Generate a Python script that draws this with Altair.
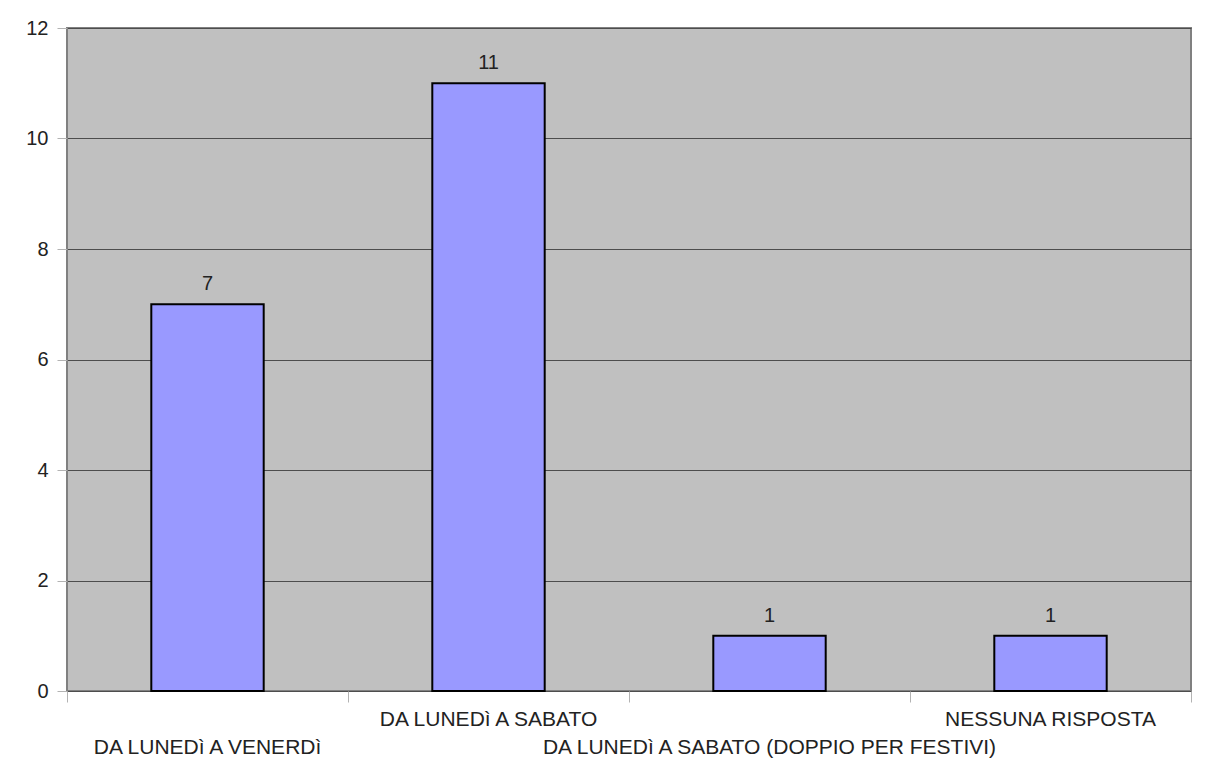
import altair as alt
import pandas as pd

categories = ["DA LUNEDì A VENERDì", "DA LUNEDì A SABATO",
              "DA LUNEDì A SABATO (DOPPIO PER FESTIVI)", "NESSUNA RISPOSTA"]
values = [7, 11, 1, 1]
label_row = [1, 0, 1, 0]  # 0 = upper row, 1 = lower row

df = pd.DataFrame({"cat": categories, "val": values, "row": label_row})

W, H = 1124, 663
FONT = "Liberation Sans"
FS = 20
FS_CAT = 21

xscale = alt.Scale(domain=categories, paddingInner=0, paddingOuter=0)
yscale = alt.Scale(domain=[0, 12])

base = alt.Chart(df)

bars = base.mark_bar(
    width=alt.RelativeBandSize(0.4), fill="#9999ff", stroke="#000000", strokeWidth=2
).encode(
    x=alt.X("cat:N", scale=xscale, sort=categories,
            axis=alt.Axis(title=None, labels=False, domain=False, tickBand="extent",
                          tickColor="#b3b3b3", tickSize=11, tickWidth=1, grid=False)),
    y=alt.Y("val:Q", scale=yscale,
            axis=alt.Axis(title=None, values=[0, 2, 4, 6, 8, 10, 12], format="d",
                          domain=False,
                          grid=True, gridColor="#4d4d4d", gridWidth=1,
                          tickColor="#b3b3b3", tickSize=10, labelPadding=9,
                          labelFont=FONT, labelFontSize=FS, labelColor="#222222")),
)

vals = base.mark_text(font=FONT, fontSize=FS, color="#222222", baseline="middle",
                      dy=-20).encode(
    x=alt.X("cat:N", scale=xscale, sort=categories),
    y=alt.Y("val:Q", scale=yscale),
    text="val:Q",
)

upper = base.transform_filter("datum.row == 0").mark_text(
    font=FONT, fontSize=FS_CAT, color="#222222", baseline="middle"
).encode(
    x=alt.X("cat:N", scale=xscale, sort=categories),
    y=alt.value(H + 29),
    text="cat:N",
)
lower = base.transform_filter("datum.row == 1").mark_text(
    font=FONT, fontSize=FS_CAT, color="#222222", baseline="middle"
).encode(
    x=alt.X("cat:N", scale=xscale, sort=categories),
    y=alt.value(H + 57),
    text="cat:N",
)

chart = alt.layer(bars, vals, upper, lower).properties(
    width=W, height=H,
    autosize=alt.AutoSizeParams(type="none"),
    padding={"left": 59, "top": 20, "right": 17, "bottom": 79},
).configure_view(
    fill="#c0c0c0", stroke="#808080", strokeWidth=2
)

chart.save("out.html", embed_options={"renderer": "svg", "actions": False})
